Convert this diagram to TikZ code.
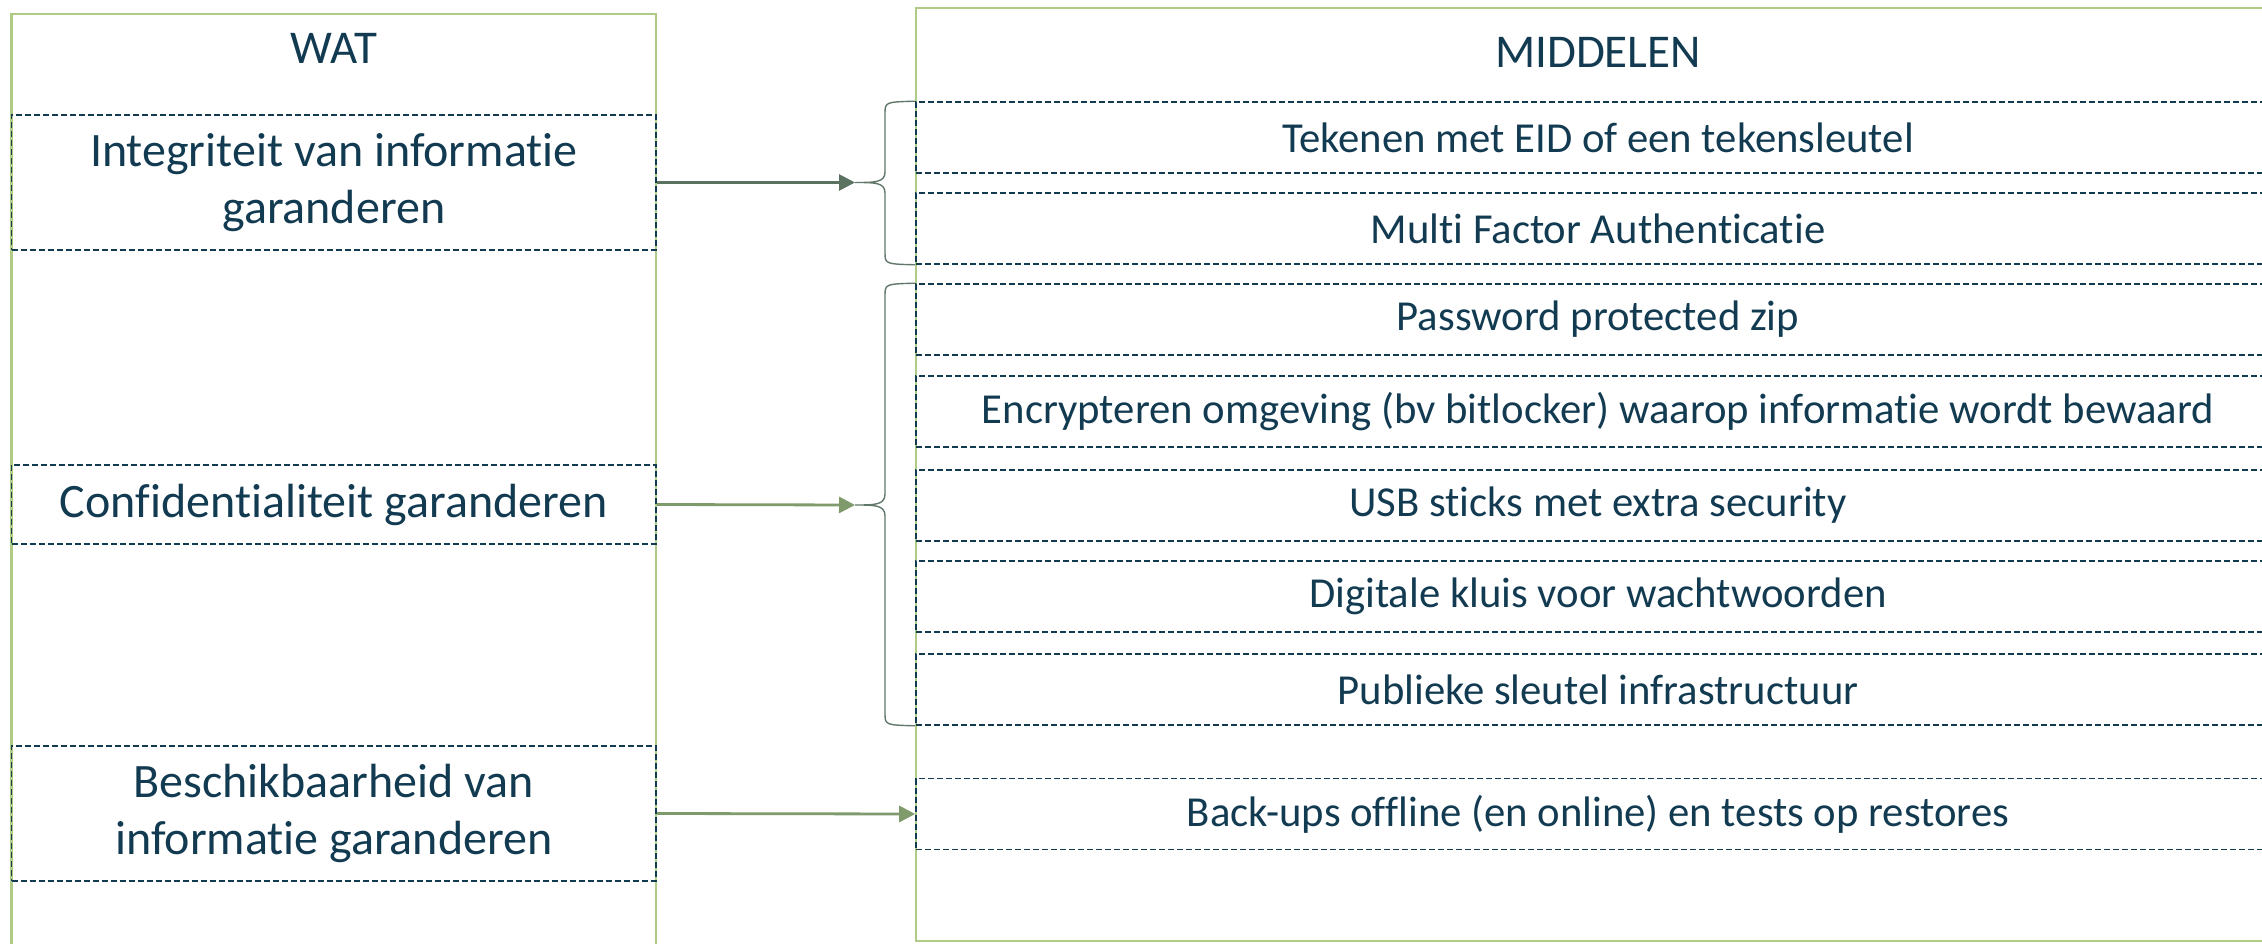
\documentclass[tikz,border=0pt]{standalone}
\usepackage{fontspec}
\setmainfont{Carlito}[Ligatures={NoCommon}]
\usetikzlibrary{arrows.meta}
\definecolor{txt}{HTML}{123B52}
\definecolor{panelgreen}{HTML}{AFCB85}
\definecolor{arrowdark}{HTML}{5B7261}
\definecolor{arrowgreen}{HTML}{7F9A6B}
\definecolor{bracecol}{HTML}{61776A}
\begin{document}
\begin{tikzpicture}[x=1pt,y=-1pt,
  panel/.style={draw=panelgreen,line width=2.5pt},
  head/.style={text=txt,font=\fontsize{47}{57}\selectfont,inner sep=0pt},
  lbox/.style={draw=txt,line width=1.6pt,dash pattern=on 6pt off 3pt,text=txt,
    font=\fontsize{48}{57}\selectfont,align=center,minimum width=644.4pt,inner sep=0pt},
  rbox/.style={draw=txt,line width=1.6pt,dash pattern=on 6pt off 3pt,text=txt,
    font=\fontsize{42.7}{50}\selectfont,align=center,minimum width=1364pt,minimum height=71pt,inner sep=0pt},
  arrdark/.style={draw=arrowdark,line width=2.8pt,-{Triangle[length=16pt,width=16pt]}},
  arrgreen/.style={draw=arrowgreen,line width=2.8pt,-{Triangle[length=16pt,width=16pt]}},
  bracestyle/.style={draw=bracecol,line width=1.4pt}]
\useasboundingbox (0,0) rectangle (2262,944);
\clip (0,0) rectangle (2262,944);
% panels
\draw[panel] (11.6,14) rectangle (656,980);
\draw[panel] (916,8) rectangle (2300,941);
% headers
\node[head] (wat) at (334,48) {WAT};
\node[head] (mid) at (1598,52) {MIDDELEN};
% left boxes
\node[lbox,minimum height=135pt] (l1) at (333.8,182.5) {Integriteit van informatie\\garanderen};
\node[lbox,minimum height=79pt] (l2) at (333.8,504.5) {Confidentialiteit garanderen};
\node[lbox,minimum height=135pt] (l3) at (333.8,813.5) {Beschikbaarheid van\\informatie garanderen};
% right boxes
\node[rbox] (r1) at (1598,137.5) {Tekenen met EID of een tekensleutel};
\node[rbox] (r2) at (1598,228.5) {Multi Factor Authenticatie};
\node[rbox] (r3) at (1598,319.5) {Password protected zip};
\node[rbox] (r4) at (1598,411.5) {Encrypteren omgeving (bv bitlocker) waarop informatie wordt bewaard};
\node[rbox] (r5) at (1598,505.5) {USB sticks met extra security};
\node[rbox] (r6) at (1598,596.5) {Digitale kluis voor wachtwoorden};
\node[rbox] (r7) at (1598,689.5) {Publieke sleutel infrastructuur};
\node[rbox] (r8) at (1598,814) {Back-ups offline (en online) en tests op restores};
% braces
\coordinate (b1) at (855,182.5);
\coordinate (b2) at (855,505);
\draw[bracestyle] (r1.north west) .. controls (885,102) and (885,102) .. (885,114)
  -- (885,172) .. controls (885,182.5) and (875,182.5) .. (b1)
  .. controls (875,182.5) and (885,182.5) .. (885,193)
  -- (885,252) .. controls (885,264) and (885,264) .. (r2.south west);
\draw[bracestyle] (r3.north west) .. controls (885,284) and (885,284) .. (885,296)
  -- (885,494) .. controls (885,505) and (875,505) .. (b2)
  .. controls (875,505) and (885,505) .. (885,516)
  -- (885,713) .. controls (885,725) and (885,725) .. (r7.south west);
% arrows
\draw[arrdark] (l1.east) -- (b1);
\draw[arrgreen] (l2.east) -- (b2);
\draw[arrgreen] (l3.east) -- (r8.west);
\end{tikzpicture}
\end{document}
